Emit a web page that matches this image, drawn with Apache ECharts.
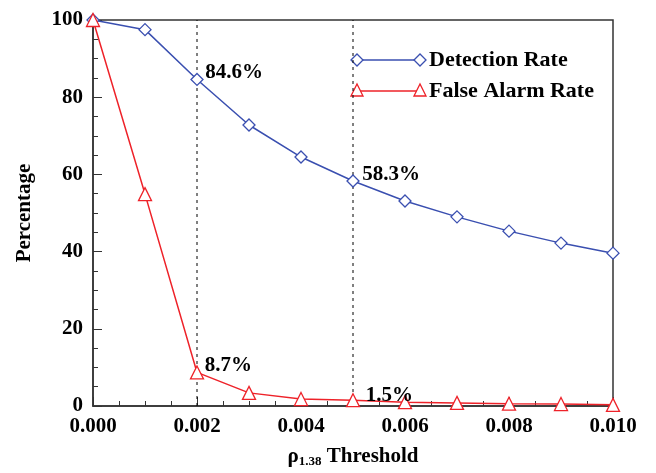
<!DOCTYPE html><html><head><meta charset="utf-8"><script src="https://cdn.jsdelivr.net/npm/echarts@6/dist/echarts.min.js"></script></head><body style="margin:0"><div id="c" style="width:656px;height:473px"></div><script>
const thresholds=[0,0.001,0.002,0.003,0.004,0.005,0.006,0.007,0.008,0.009,0.010];
const detection=[100,97.5,84.6,72.8,64.5,58.3,53.1,49.0,45.3,42.2,39.6];
const falseAlarm=[100,54.9,8.7,3.4,1.8,1.5,1.0,0.8,0.6,0.5,0.3];
const markers=[0.002,0.005];
const seriesNames=['Detection Rate','False Alarm Rate'];
const F='Liberation Serif';
const FS=21;
const BLUE='#3a4fb0',RED='#ee2229';
function mk(vals,pos){return thresholds.map((t,i)=>{const d={value:[t,vals[i]]};if(pos[i]){d.label={show:true,position:pos[i],align:'left',verticalAlign:'middle',formatter:vals[i].toFixed(1)+'%',fontFamily:F,fontWeight:'bold',fontSize:FS,color:'#000'};}return d;});}
const ax={axisLine:{lineStyle:{color:'#333',width:1.5}},axisTick:{inside:true,length:9,lineStyle:{color:'#333'}},minorTick:{show:true,splitNumber:4,length:5,lineStyle:{color:'#333'}},splitLine:{show:false},axisLabel:{fontFamily:F,fontWeight:'bold',fontSize:FS,color:'#000'}};
const chart=echarts.init(document.getElementById('c'));
const vlines=markers.map(m=>({type:'line',silent:true,symbol:'none',lineStyle:{color:'#000',type:[3,4],width:1},data:[[m,0],[m,100]],z:1}));
function legendRow(y,name,color,shape){
  const sym=x=>shape==='d'?{type:'polygon',shape:{points:[[x-6,y],[x,y-6],[x+6,y],[x,y+6]]},style:{fill:'#fff',stroke:color,lineWidth:1.3}}
    :{type:'polygon',shape:{points:[[x-6,y+5],[x,y-7],[x+6,y+5]]},style:{fill:'#fff',stroke:color,lineWidth:1.3}};
  return [{type:'line',shape:{x1:357,y1:y,x2:420,y2:y},style:{stroke:color,lineWidth:1.5}},sym(357),sym(420),
    {type:'text',x:429,y:y,style:{text:name,font:'bold 22px "Liberation Serif"',fill:'#000',verticalAlign:'middle'}}];
}
chart.setOption({animation:false,
grid:{left:93,right:43,top:20,bottom:67,show:true,borderColor:'#333',borderWidth:1.5,outerBoundsMode:'none',containLabel:false},
graphic:legendRow(60,seriesNames[0],BLUE,'d').concat(legendRow(91,seriesNames[1],RED,'t')),
xAxis:Object.assign({type:'value',min:0,max:0.01,interval:0.002,name:'{r|ρ}{s|1.38}{r| Threshold}',nameLocation:'middle',nameGap:40,nameTextStyle:{rich:{r:{fontFamily:F,fontWeight:'bold',fontSize:FS,color:'#000'},s:{fontFamily:F,fontWeight:'bold',fontSize:13,color:'#000',verticalAlign:'bottom',padding:[9,0,0,0]}}}},ax,{axisLabel:Object.assign({},ax.axisLabel,{formatter:v=>v.toFixed(3),margin:10})}),
yAxis:Object.assign({type:'value',min:0,max:100,interval:20,name:'Percentage',nameLocation:'middle',nameGap:58,nameTextStyle:{fontFamily:F,fontWeight:'bold',fontSize:FS,color:'#000'}},ax,{axisLabel:Object.assign({},ax.axisLabel,{margin:10})}),
series:[
{name:seriesNames[0],type:'line',symbol:'diamond',symbolSize:12,color:BLUE,itemStyle:{color:'#fff',borderColor:BLUE,borderWidth:1.3},lineStyle:{color:BLUE,width:1.5},z:3,
data:mk(detection,{2:[15,0],5:[16,0]})},
{name:seriesNames[1],type:'line',symbol:'triangle',symbolSize:13,color:RED,itemStyle:{color:'#fff',borderColor:RED,borderWidth:1.3},lineStyle:{color:RED,width:1.5},z:3,
data:mk(falseAlarm,{2:[15,0],5:[20,3]})}
].concat(vlines)});
</script></body></html>
